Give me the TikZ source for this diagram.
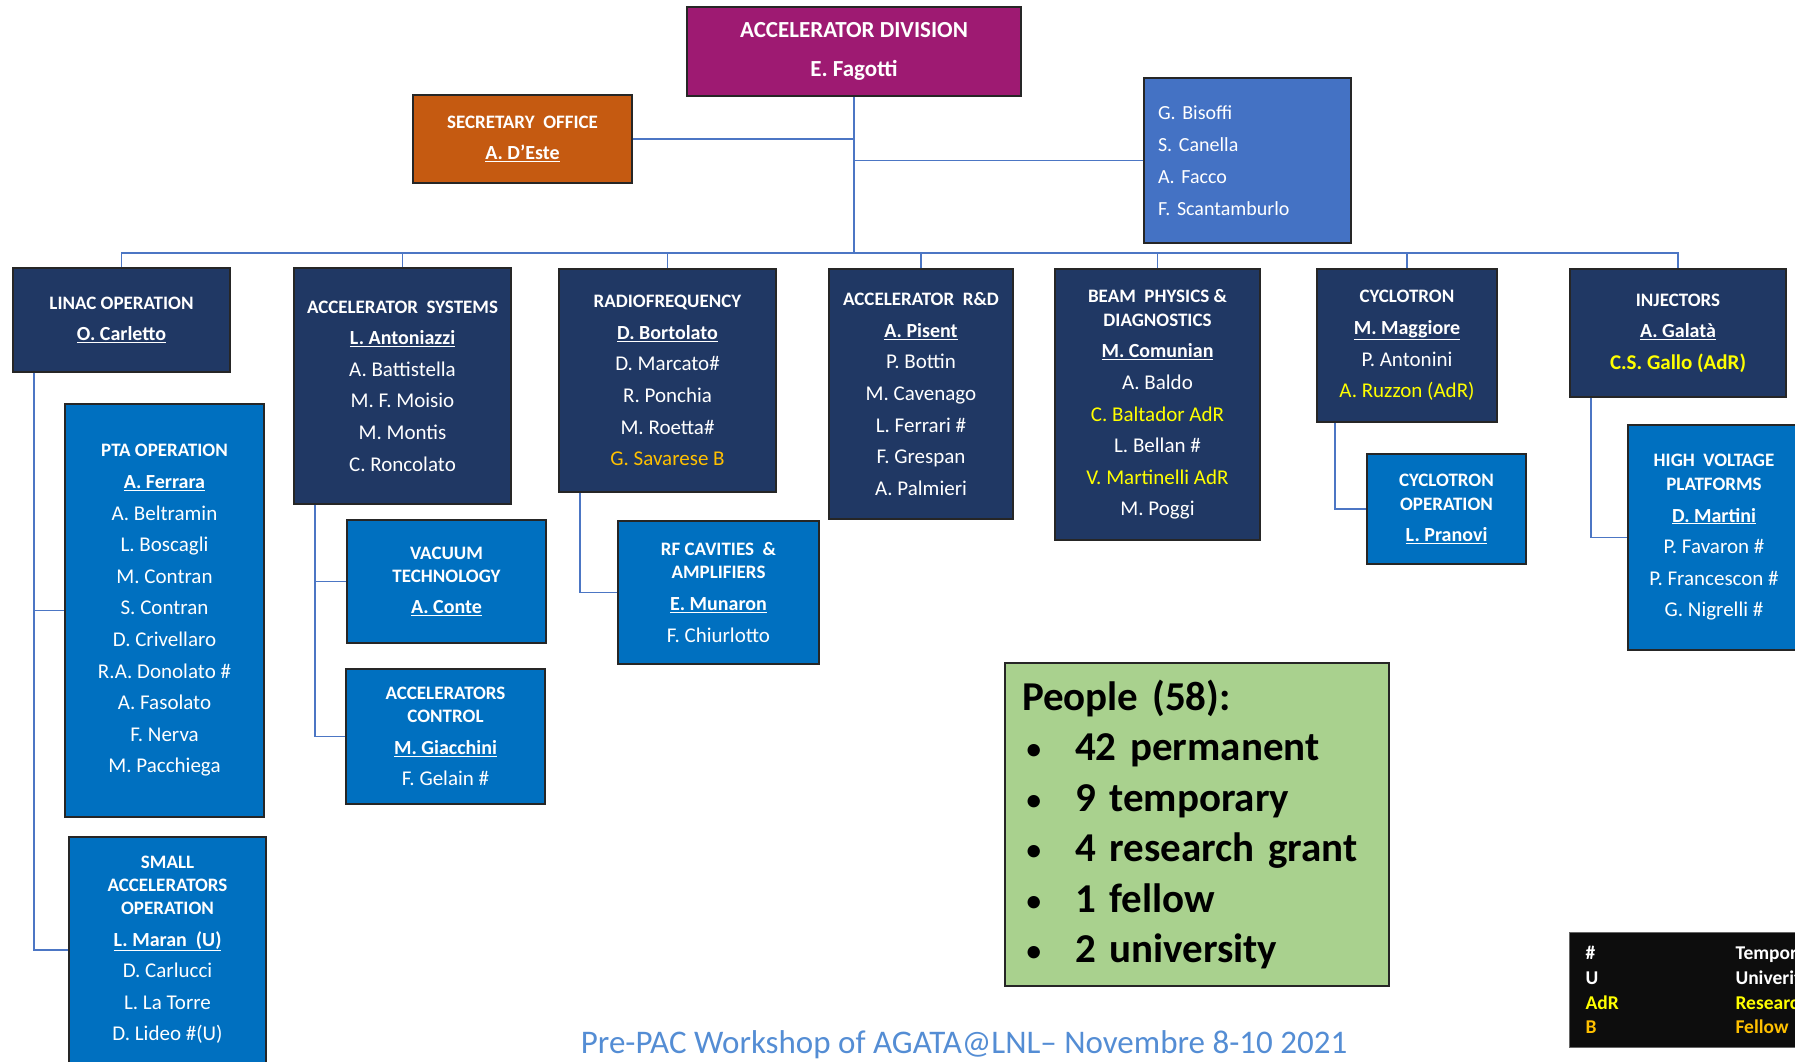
\documentclass[tikz,border=0pt]{standalone}
\usepackage{fontspec}
\setmainfont{Carlito}
\usetikzlibrary{calc}
\definecolor{navy}{RGB}{32,56,100}
\definecolor{unit}{RGB}{0,112,192}
\definecolor{head}{RGB}{158,26,114}
\definecolor{secr}{RGB}{197,90,17}
\definecolor{staff}{RGB}{68,114,196}
\definecolor{people}{RGB}{169,209,142}
\definecolor{link}{RGB}{76,118,196}
\definecolor{adr}{RGB}{255,255,0}
\definecolor{fel}{RGB}{255,192,0}
\definecolor{foot}{RGB}{84,141,212}
\tikzset{
  obox/.style={draw=black!85,line width=1.5pt,text=white,align=center,inner sep=0pt,
    font=\fontsize{21}{31.6}\selectfont},
  onavy/.style={obox,fill=navy},
  ounit/.style={obox,fill=unit},
  olink/.style={link,line width=1.8pt},
}
\newcommand{\orghd}[1]{{\fontsize{19}{31.6}\selectfont\bfseries #1}}
\newcommand{\orgboss}[1]{{\fontsize{20}{31.6}\selectfont\bfseries\underline{#1}}}
\newcommand{\orgadr}[1]{\textcolor{adr}{#1}}
\newcommand{\orgbul}{\makebox[53pt][l]{\hspace{3pt}{\fontsize{35}{35}\selectfont\mdseries\textbullet}}}

\begin{document}
\begin{tikzpicture}[x=1pt,y=-1pt]
  \clip (0,0) rectangle (1795,1061);
  % ---- head of division ----
  \node[obox,fill=head,minimum width=334pt,minimum height=89pt,
     font=\fontsize{23}{39}\selectfont\bfseries] (div) at (854,51.5)
     {ACCELERATOR DIVISION\\E. Fagotti};
  \node[obox,fill=secr,minimum width=219pt,minimum height=88pt,
     font=\fontsize{21}{31}\selectfont] (sec) at (522.5,139)
     {\orghd{SECRETARY\ \ OFFICE}\\\orgboss{A. D'Este}};
  \node[obox,fill=staff,minimum width=207pt,minimum height=165pt,text width=179pt,
     inner xsep=14pt,align=left,font=\fontsize{20}{32}\selectfont] (staff) at (1247.5,160.5)
     {G. Bisoffi\\S. Canella\\A. Facco\\F. Scantamburlo};
  \coordinate (bus) at (854,253);
  % ---- groups ----
  \node[onavy,minimum width=217pt,minimum height=104pt] (linac) at (121.5,320)
     {\orghd{LINAC OPERATION}\\\orgboss{O. Carletto}};
  \node[onavy,minimum width=217pt,minimum height=236pt] (accsys) at (402.5,386)
     {\orghd{ACCELERATOR\ \ SYSTEMS}\\\orgboss{L. Antoniazzi}\\A. Battistella\\
      M. F. Moisio\\M. Montis\\C. Roncolato};
  \node[onavy,minimum width=217pt,minimum height=223pt] (rf) at (667.5,380.5)
     {\orghd{RADIOFREQUENCY}\\\orgboss{D. Bortolato}\\D. Marcato\#\\R. Ponchia\\
      M. Roetta\#\\\textcolor{fel}{G. Savarese B}};
  \node[onavy,minimum width=184pt,minimum height=250pt] (rnd) at (921,394)
     {\orghd{ACCELERATOR\ \ R\&D}\\\orgboss{A. Pisent}\\P. Bottin\\M. Cavenago\\
      L. Ferrari \#\\F. Grespan\\A. Palmieri};
  \node[onavy,minimum width=205pt,minimum height=271pt] (beam) at (1157.5,404.5)
     {\orghd{BEAM\ \ PHYSICS \&}\\[-8pt]\orghd{DIAGNOSTICS}\\\orgboss{M. Comunian}\\
      A. Baldo\\\orgadr{C. Baltador AdR}\\L. Bellan \#\\\orgadr{V. Martinelli AdR}\\M. Poggi};
  \node[onavy,minimum width=180pt,minimum height=153pt] (cyc) at (1407,345.5)
     {\orghd{CYCLOTRON}\\\orgboss{M. Maggiore}\\P. Antonini\\\orgadr{A. Ruzzon (AdR)}};
  \node[onavy,minimum width=216pt,minimum height=128pt] (inj) at (1678,333)
     {\orghd{INJECTORS}\\\orgboss{A. Galatà}\\\orgadr{\textbf{C.S. Gallo (AdR)}}};
  % ---- units ----
  \node[ounit,minimum width=199pt,minimum height=413pt] (pta) at (164.5,610.5)
     {\orghd{PTA OPERATION}\\\orgboss{A. Ferrara}\\A. Beltramin\\L. Boscagli\\
      M. Contran\\S. Contran\\D. Crivellaro\\R.A. Donolato \#\\A. Fasolato\\
      F. Nerva\\M. Pacchiega};
  \node[ounit,minimum width=197pt,minimum height=226pt] (small) at (167.5,950)
     {\orghd{SMALL}\\[-8.6pt]\orghd{ACCELERATORS}\\[-8.6pt]\orghd{OPERATION}\\
      \orgboss{L. Maran\ \ (U)}\\D. Carlucci\\L. La Torre\\D. Lideo \#(U)};
  \node[ounit,minimum width=199pt,minimum height=123pt] (vac) at (446.5,581.5)
     {\orghd{VACUUM}\\[-8.6pt]\orghd{TECHNOLOGY}\\\orgboss{A. Conte}};
  \node[ounit,minimum width=199pt,minimum height=135pt] (ctrl) at (445.5,736.5)
     {\orghd{ACCELERATORS}\\[-8.6pt]\orghd{CONTROL}\\\orgboss{M. Giacchini}\\F. Gelain \#};
  \node[ounit,minimum width=201pt,minimum height=143pt] (rfcav) at (718.5,592.5)
     {\orghd{RF CAVITIES\ \ \&}\\[-8.6pt]\orghd{AMPLIFIERS}\\\orgboss{E. Munaron}\\F. Chiurlotto};
  \node[ounit,minimum width=159pt,minimum height=110pt] (cycop) at (1446.5,509)
     {\orghd{CYCLOTRON}\\[-8pt]\orghd{OPERATION}\\\orgboss{L. Pranovi}};
  \node[ounit,minimum width=172pt,minimum height=225pt] (hv) at (1714,537.5)
     {\orghd{HIGH\ \ VOLTAGE}\\[-8pt]\orghd{PLATFORMS}\\\orgboss{D. Martini}\\
      P. Favaron \#\\P. Francescon \#\\G. Nigrelli \#};
  % ---- links ----
  \draw[olink] (div.south) -- (bus);
  \draw[olink] (sec.east) -- (sec.east -| bus);
  \draw[olink] (staff.west) -- (staff.west -| bus);
  \draw[olink] (linac.north) |- (bus) -| (inj.north);
  \foreach \g in {accsys,rf,rnd,beam,cyc}
    \draw[olink] (\g.north) -- (\g.north |- bus);
  \draw[olink] ($(linac.south west)+(22,0)$) |- (pta.west);
  \draw[olink] ($(linac.south west)+(22,0)$) |- (small.west);
  \draw[olink] ($(accsys.south west)+(22,0)$) |- (vac.west);
  \draw[olink] ($(accsys.south west)+(22,0)$) |- (ctrl.west);
  \draw[olink] ($(rf.south west)+(22,0)$) |- (rfcav.west);
  \draw[olink] ($(cyc.south west)+(19,0)$) |- (cycop.west);
  \draw[olink] ($(inj.south west)+(22,0)$) |- (hv.west);
  % ---- counts and legend ----
  \node[draw=black!85,line width=1.5pt,fill=people,minimum width=384pt,minimum height=323pt,
     text width=350pt,inner xsep=17pt,align=left,font=\fontsize{41}{50.5}\selectfont\bfseries]
     (people) at (1197,824.5)
     {People (58):\\\orgbul 42 permanent\\\orgbul 9 temporary\\\orgbul 4 research grant\\
      \orgbul 1 fellow\\\orgbul 2 university};
  \node[fill=black!95,draw=black!60,line width=1pt,anchor=north west,minimum height=115pt,
     text width=320pt,inner xsep=16pt,align=left,text=white,
     font=\fontsize{19.5}{24.8}\selectfont\bfseries] (legend) at (1569,932)
     {\makebox[150pt][l]{\#}Temporary\\\makebox[150pt][l]{U}Univerity\\
      \textcolor{adr}{\makebox[150pt][l]{AdR}Research grant}\\
      \textcolor{fel}{\makebox[150pt][l]{B}Fellow}};
  \node[text=foot,anchor=base,inner sep=0pt,font=\fontsize{33}{40}\selectfont]
     (foot) at (964,1053) {Pre-PAC Workshop of AGATA@LNL– Novembre 8-10 2021};
\end{tikzpicture}
\end{document}
